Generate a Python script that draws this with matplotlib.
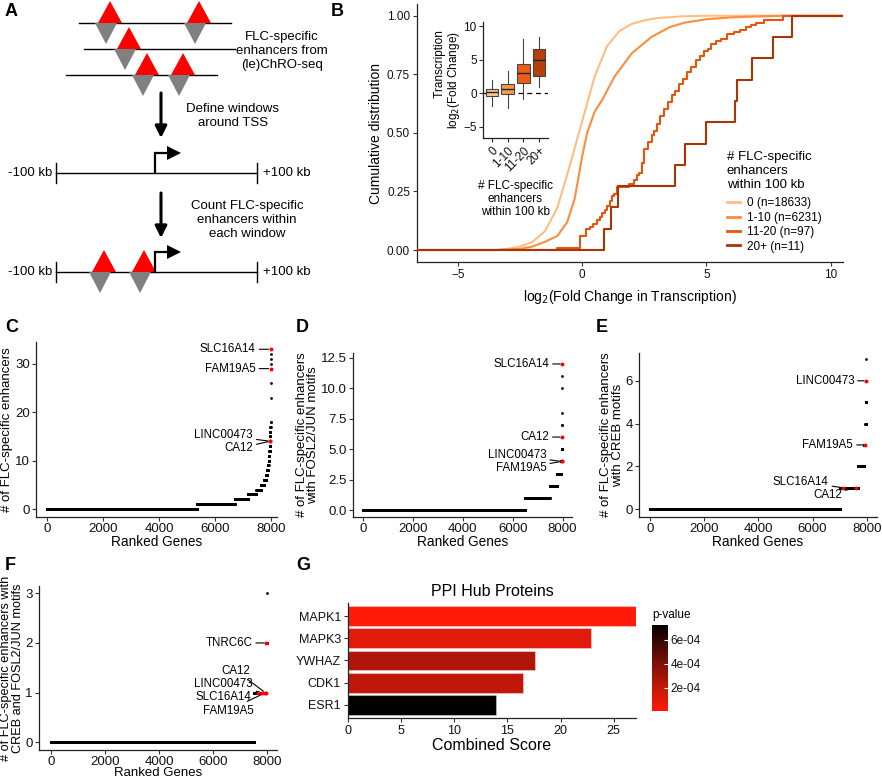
import numpy as np
import matplotlib
matplotlib.use('Agg')
import matplotlib.pyplot as plt
from matplotlib.patches import Polygon
from matplotlib.lines import Line2D
from matplotlib.colors import LinearSegmentedColormap, Normalize
from matplotlib.colorbar import ColorbarBase

plt.rcParams['font.family'] = ['Liberation Sans', 'DejaVu Sans']
plt.rcParams['axes.linewidth'] = 0.9
plt.rcParams['xtick.major.size'] = 3
plt.rcParams['ytick.major.size'] = 3
plt.rcParams['xtick.major.pad'] = 2
plt.rcParams['ytick.major.pad'] = 2
plt.rcParams['xtick.color'] = '#333333'
plt.rcParams['ytick.color'] = '#333333'
plt.rcParams['xtick.labelcolor'] = '#111111'
plt.rcParams['ytick.labelcolor'] = '#111111'

# ---------------- data ----------------
# Panel B
groups = ['0', '1-10', '11-20', '20+']
group_n = [18633, 6231, 97, 11]
group_colors = ['#fdbe85', '#fd8d3c', '#e6550d', '#a63603']

ecdf0_x = [-3.5, -3.0, -2.5, -2.0, -1.5, -1.0, -0.5, 0.0, 0.5, 1.0, 1.5, 2.0, 2.5, 3.0, 4.0, 5.0]
ecdf0_y = [0.0, 0.005, 0.015, 0.035, 0.08, 0.18, 0.36, 0.55, 0.74, 0.87, 0.935, 0.965, 0.98, 0.99, 0.997, 1.0]

ecdf1_x = [-3.5, -2.5, -2.0, -1.5, -1.0, -0.6, -0.3, 0.0, 0.2, 0.5, 0.8, 1.3, 2.0, 2.8, 3.5, 4.1, 5.0, 6.0, 8.0]
ecdf1_y = [0.0, 0.005, 0.015, 0.035, 0.06, 0.12, 0.22, 0.40, 0.50, 0.59, 0.64, 0.74, 0.84, 0.91, 0.95, 0.97, 0.985, 0.993, 1.0]

ecdf2_x = [-1.0, -0.1, 0.15, 0.3, 0.45, 0.6, 0.7, 0.8, 0.9, 1.0, 1.1, 1.2, 1.3, 1.4, 1.9, 2.1, 2.2, 2.3, 2.4,
           2.5, 2.65, 2.8, 2.9, 3.0, 3.15, 3.3, 3.45, 3.6, 3.75, 3.9, 4.05, 4.2, 4.4, 4.6, 4.75, 4.9, 5.05,
           5.2, 5.4, 5.6, 5.85, 6.1, 6.35, 6.6, 6.8, 7.0, 7.3, 8.1]
ecdf2_y = [0.01, 0.06, 0.09, 0.10, 0.11, 0.13, 0.14, 0.16, 0.17, 0.19, 0.21, 0.23, 0.24, 0.27, 0.28, 0.30,
           0.32, 0.33, 0.37, 0.43, 0.46, 0.49, 0.51, 0.54, 0.57, 0.60, 0.63, 0.66, 0.68, 0.71, 0.73, 0.76,
           0.78, 0.81, 0.83, 0.85, 0.86, 0.88, 0.89, 0.90, 0.92, 0.93, 0.94, 0.95, 0.96, 0.97, 0.98, 1.0]

fc_20plus = [0.87, 1.17, 1.44, 3.73, 4.13, 5.0, 6.15, 6.25, 6.85, 7.7, 8.45]

box_med = [0.1, 0.6, 3.05, 4.93]
box_q1 = [-0.5, -0.15, 1.48, 2.56]
box_q3 = [0.6, 1.33, 4.33, 6.55]
box_lo = [-2.0, -2.2, -0.9, 0.9]
box_hi = [2.0, 3.35, 8.0, 8.4]
box_fill = ['#fdc890', '#fd9a4a', '#ec5e18', '#b5400c']
inset_labels = ['0', '1-10', '11-20', '20+']

# Panel C
c_values = [0, 1, 2, 3, 4, 5, 6, 7, 8, 9, 10, 11, 12, 13, 14, 15, 16, 17, 18, 23, 26, 29, 30, 31, 32, 33]
c_counts = [5370, 1330, 480, 300, 170, 100, 65, 45, 30, 22, 18, 14, 11, 9, 7, 5, 4, 3, 2, 1, 1, 1, 1, 1, 1, 1]
c_genes = ['SLC16A14', 'FAM19A5', 'LINC00473', 'CA12']
c_gene_rank = [7991, 7987, 7966, 7966]
c_gene_val = [33, 29, 14, 14]

# Panel D
d_values = [0, 1, 2, 3, 4, 5, 6, 7, 8, 10, 11, 12]
d_counts = [6500, 980, 300, 150, 40, 10, 4, 2, 1, 1, 1, 1]
d_genes = ['SLC16A14', 'CA12', 'LINC00473', 'FAM19A5']
d_gene_rank = [7989, 7982, 7960, 7960]
d_gene_val = [12, 6, 4, 4]

# Panel E
e_values = [0, 1, 2, 3, 4, 5, 6, 7]
e_counts = [7010, 680, 210, 50, 20, 5, 2, 1]
e_genes = ['LINC00473', 'FAM19A5', 'SLC16A14', 'CA12']
e_gene_rank = [7976, 7940, 7110, 7590]
e_gene_val = [6, 3, 1, 1]

# Panel F
f_values = [0, 1, 2, 3]
f_counts = [7520, 445, 20, 1]
f_genes = ['TNRC6C', 'CA12', 'LINC00473', 'SLC16A14', 'FAM19A5']
f_gene_rank = [7975, 7930, 7800, 7680, 7950]
f_gene_val = [2, 1, 1, 1, 1]

# Panel G
g_proteins = ['MAPK1', 'MAPK3', 'YWHAZ', 'CDK1', 'ESR1']
g_scores = [27.1, 22.9, 17.6, 16.5, 13.9]
g_pvalues = [8e-6, 1.0e-4, 2.6e-4, 2.1e-4, 7.25e-4]

# ---------------- figure ----------------
W, H = 882, 781
fig = plt.figure(figsize=(W / 100, H / 100), dpi=100)


def px_axes(l, t, r, b):
    return fig.add_axes([l / W, 1 - b / H, (r - l) / W, (b - t) / H])


def style(ax):
    for s in ['top', 'right']:
        ax.spines[s].set_visible(False)
    ax.spines['left'].set_color('#222222')
    ax.spines['bottom'].set_color('#222222')


def panel_letter(x, y, s):
    fig.text(x / W, 1 - y / H, s, fontsize=13, fontweight='bold', ha='left', va='center')


# ---------------- Panel A (schematic) ----------------
axA = px_axes(0, 0, 330, 300)
axA.set_xlim(0, 330)
axA.set_ylim(300, 0)
axA.axis('off')

RED, GREY = '#ff0000', '#808080'


def enh(x, y):
    axA.add_patch(Polygon([(x - 12, y), (x + 12, y), (x, y - 22)], closed=True, fc=RED, ec='none', zorder=3))
    axA.add_patch(Polygon([(x - 15, y), (x + 7, y), (x - 4, y + 21)], closed=True, fc=GREY, ec='none', zorder=3))


schem_lines = [(79, 231, 23, [110, 199]), (84, 235, 49, [129]), (66, 217, 75, [147, 183])]
for x0, x1, y, xs in schem_lines:
    axA.plot([x0, x1], [y, y], color='black', lw=1.0, zorder=2)
    for xx in xs:
        enh(xx, y)

axA.text(282, 51, 'FLC-specific\nenhancers from\n(le)ChRO-seq', ha='center', va='center',
         fontsize=9.5, linespacing=1.2)


def down_arrow(x, y0, y1):
    axA.annotate('', xy=(x, y1), xytext=(x, y0),
                 arrowprops=dict(arrowstyle='-|>,head_width=0.35,head_length=0.7', color='black', lw=2.2,
                                 shrinkA=0, shrinkB=0))


down_arrow(161, 93, 138)
axA.text(233, 116, 'Define windows\naround TSS', ha='center', va='center', fontsize=9.5, linespacing=1.2)


def window(y, enhs):
    axA.plot([56, 257], [y, y], color='black', lw=1.0, zorder=2)
    axA.plot([56, 56], [y - 10, y + 10], color='black', lw=1.0)
    axA.plot([257, 257], [y - 10, y + 10], color='black', lw=1.0)
    axA.text(52, y, '-100 kb', ha='right', va='center', fontsize=9.5)
    axA.text(263, y, '+100 kb', ha='left', va='center', fontsize=9.5)
    for xx in enhs:
        enh(xx, y)
    axA.plot([155, 155, 168], [y, y - 20, y - 20], color='black', lw=1.6, zorder=4, solid_joinstyle='miter')
    axA.add_patch(Polygon([(167, y - 27), (167, y - 13), (181, y - 20)], closed=True, fc='black', ec='none', zorder=4))


window(173, [])
down_arrow(161, 193, 238)
axA.text(247, 220, 'Count FLC-specific\nenhancers within\neach window', ha='center', va='center',
         fontsize=9.5, linespacing=1.2)
window(272, [104, 144])

panel_letter(5, 11, 'A')

# ---------------- Panel B ----------------
axB = px_axes(417, 4, 843, 262)
style(axB)
xlo, xhi = -6.65, 10.5
axB.set_xlim(xlo, xhi)
axB.set_ylim(-0.051, 1.05)

axB.plot(np.r_[xlo, ecdf0_x, xhi], np.r_[0, ecdf0_y, 1], color=group_colors[0], lw=1.5, zorder=2)
axB.plot(np.r_[xlo, ecdf1_x, xhi], np.r_[0, ecdf1_y, 1], color=group_colors[1], lw=1.5, zorder=3)
axB.plot(np.r_[xlo, ecdf2_x, xhi], np.r_[0, ecdf2_y, 1], color=group_colors[2], lw=1.5,
         drawstyle='steps-post', zorder=4)
v20 = np.sort(np.array(fc_20plus))
axB.plot(np.r_[xlo, v20, xhi], np.r_[0, np.arange(1, len(v20) + 1) / len(v20), 1], color=group_colors[3],
         lw=1.5, drawstyle='steps-post', zorder=5)

axB.set_xticks([-5, 0, 5, 10])
axB.set_yticks([0, 0.25, 0.5, 0.75, 1.0])
axB.set_yticklabels(['0.00', '0.25', '0.50', '0.75', '1.00'])
axB.tick_params(labelsize=8.5)
axB.set_ylabel('Cumulative distribution', fontsize=10, labelpad=3)
axB.set_xlabel('log$_2$(Fold Change in Transcription)', fontsize=10, labelpad=5)

handles = [Line2D([], [], color=c, lw=2) for c in group_colors]
labels = [f'{g} (n={n})' for g, n in zip(groups, group_n)]
leg = axB.legend(handles, labels, title='# FLC-specific\nenhancers\nwithin 100 kb', fontsize=8.5,
                 title_fontsize=9.5, frameon=False, handlelength=1.1, handletextpad=0.6,
                 labelspacing=0.2, alignment='left', loc='upper left', borderpad=0,
                 bbox_to_anchor=(721 / W, 1 - 145 / H), bbox_transform=fig.transFigure)
leg._legend_box.sep = 5

panel_letter(331, 11, 'B')

# inset
axI = px_axes(483, 22, 548, 138)
style(axI)
stats = [dict(med=m, q1=a, q3=b, whislo=lo, whishi=hi, fliers=[])
         for m, a, b, lo, hi in zip(box_med, box_q1, box_q3, box_lo, box_hi)]
bp = axI.bxp(stats, positions=range(len(stats)), widths=0.8, patch_artist=True, showfliers=False,
             showcaps=False,
             boxprops=dict(edgecolor='#444444', linewidth=0.8),
             whiskerprops=dict(color='#444444', linewidth=0.8),
             medianprops=dict(color='#222222', linewidth=1.0))
for patch, c in zip(bp['boxes'], box_fill):
    patch.set_facecolor(c)
axI.axhline(0, color='black', lw=0.9, ls=(0, (4, 3)), zorder=0)
axI.set_xlim(-0.57, 3.57)
axI.set_ylim(-6.7, 10.6)
axI.set_yticks([-5, 0, 5, 10])
axI.set_xticks(range(4))
axI.set_xticklabels(inset_labels, rotation=45, ha='right', va='top', rotation_mode='anchor')
axI.tick_params(labelsize=8.5)
axI.tick_params(axis='y', pad=1.5)
axI.set_ylabel('          Transcription\nlog$_2$(Fold Change)', fontsize=8.5, labelpad=1, linespacing=0.95)
axI.set_xlabel('# FLC-specific\nenhancers\nwithin 100 kb', fontsize=8.5, labelpad=4, linespacing=1.1)


# ---------------- Panels C-F ----------------
def rank_panel(ax, values, counts, genes, granks, gvals, offsets, xlim, ylim, yticks, ylabel, yfmt=None):
    style(ax)
    vals = np.repeat(values, counts)
    ranks = np.arange(len(vals))
    ax.plot(ranks, vals, ls='none', marker='o', ms=2.0, mew=0, color='black', zorder=2)
    ax.plot(granks, gvals, ls='none', marker='o', ms=2.8, mew=0, color='#ff0000', zorder=4)
    for g, r, v, (dx, dy) in zip(genes, granks, gvals, offsets):
        ax.annotate(g, xy=(r, v), xytext=(dx * 0.72, dy * 0.72), textcoords='offset points',
                    ha='right', va='center', fontsize=8.3,
                    arrowprops=dict(arrowstyle='-', color='black', lw=0.8, shrinkA=0.5, shrinkB=1.5),
                    zorder=3)
    ax.set_xlim(*xlim)
    ax.set_ylim(*ylim)
    ax.set_xticks([0, 2000, 4000, 6000, 8000])
    ax.set_yticks(yticks)
    if yfmt:
        ax.set_yticklabels([yfmt % t for t in yticks])
    ax.tick_params(labelsize=9.5, pad=1.5)
    ax.set_xlabel('Ranked Genes', fontsize=9.8, labelpad=0)
    ax.set_ylabel(ylabel, fontsize=9.5, labelpad=1, linespacing=0.95)


axC = px_axes(36, 342, 277, 517)
rank_panel(axC, c_values, c_counts, c_genes, c_gene_rank, c_gene_val,
           [(-15, 0), (-15, 0), (-17, 6), (-17, -7)],
           (-393, 8214), (-1.65, 34.5), [0, 10, 20, 30], '# of FLC-specific enhancers')
panel_letter(5, 327, 'C')

axD = px_axes(353, 353, 572, 517)
rank_panel(axD, d_values, d_counts, d_genes, d_gene_rank, d_gene_val,
           [(-13, 0), (-13, 0), (-15, 6), (-15, -7)],
           (-400, 8380), (-0.56, 12.9), [0, 2.5, 5, 7.5, 10, 12.5],
           '# of FLC-specific enhancers\nwith FOSL2/JUN motifs', yfmt='%.1f')
panel_letter(296, 327, 'D')

axE = px_axes(639, 353, 877, 517)
rank_panel(axE, e_values, e_counts, e_genes, e_gene_rank, e_gene_val,
           [(-12, 0), (-12, 0), (-14, 6), (-14, -7)],
           (-406, 8376), (-0.37, 7.3), [0, 2, 4, 6],
           '# of FLC-specific enhancers\nwith CREB motifs')
panel_letter(596, 327, 'E')

axF = px_axes(39, 586, 277, 750)
rank_panel(axF, f_values, f_counts, f_genes, f_gene_rank, f_gene_val,
           [(-14, 0), (-15, 22), (-9, 9), (-7, -4), (-12, -18)],
           (-444, 8370), (-0.16, 3.15), [0, 1, 2, 3],
           '# of FLC-specific enhancers with\nCREB and FOSL2/JUN motifs')
axF.yaxis.label.set_fontsize(9.2)
axF.set_xlabel('Ranked Genes', fontsize=9.5, labelpad=-1)
panel_letter(5, 565, 'F')

# ---------------- Panel G ----------------
axG = px_axes(348, 603, 636, 718)
style(axG)
cmap = LinearSegmentedColormap.from_list('redblack', ['#ff1a0a', '#c8180a', '#8a1208', '#4a0a05', '#000000'])
norm = Normalize(vmin=8e-6, vmax=7.25e-4)
ypos = np.arange(len(g_proteins))[::-1]
cols = [cmap(norm(p)) for p in g_pvalues]
axG.barh(ypos, g_scores, height=0.9, color=cols, edgecolor=[(1, 1, 1, 0.35)] * 5, linewidth=0.8, zorder=2)
axG.set_yticks(ypos)
axG.set_yticklabels(g_proteins)
axG.set_xlim(0, max(g_scores))
axG.set_ylim(-0.6, len(g_proteins) - 0.4)
axG.set_xticks([0, 5, 10, 15, 20, 25])
axG.tick_params(labelsize=9)
axG.set_xlabel('Combined Score', fontsize=11.5, labelpad=1)
axG.set_title('PPI Hub Proteins', fontsize=11.5, pad=5)
panel_letter(296, 565, 'G')

axCB = px_axes(652, 625, 668, 711)
cb = ColorbarBase(axCB, cmap=cmap, norm=norm, orientation='vertical')
cb.set_ticks([2e-4, 4e-4, 6e-4])
cb.set_ticklabels(['2e-04', '4e-04', '6e-04'])
cb.outline.set_visible(False)
axCB.tick_params(labelsize=8.5, length=3, color='white', direction='in')
fig.text(652 / W, 1 - 615 / H, 'p-value', fontsize=8.5, ha='left', va='center')

fig.savefig('out.png', dpi=100)
